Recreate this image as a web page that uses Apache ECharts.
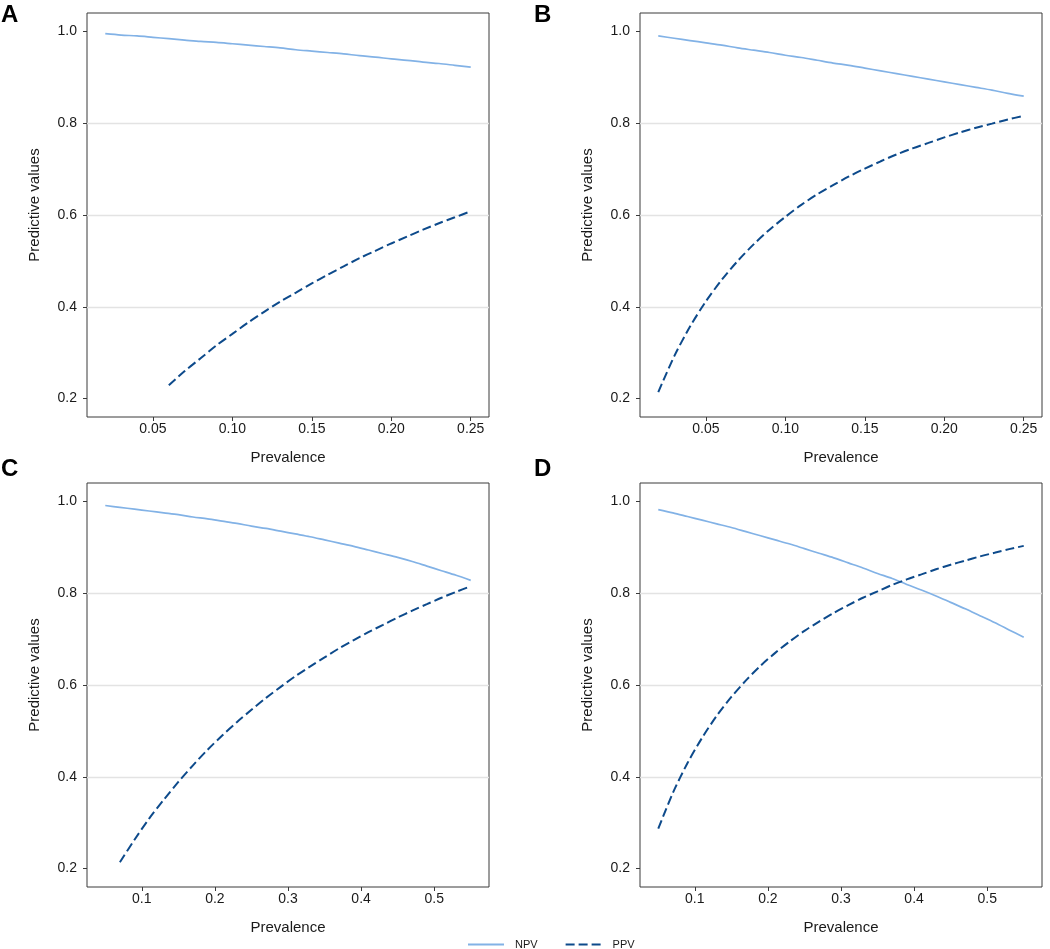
<!DOCTYPE html>
<html>
<head>
<meta charset="utf-8">
<script src="https://cdn.jsdelivr.net/npm/echarts@6/dist/echarts.min.js"></script>
<style>
html,body{margin:0;padding:0;background:#fff;}
#chart{width:1050px;height:949px;}
</style>
</head>
<body>
<div id="chart"></div>
<script>
// ---- data ----
const panelLetters = ['A', 'B', 'C', 'D'];
const xTitle = 'Prevalence';
const yTitle = 'Predictive values';
const legendNames = ['NPV', 'PPV'];

const xTicksAB = [0.05, 0.10, 0.15, 0.20, 0.25];
const xTicksCD = [0.1, 0.2, 0.3, 0.4, 0.5];
const yTicks = [0.2, 0.4, 0.6, 0.8, 1.0];

const xAB = [0.02,0.03,0.04,0.05,0.06,0.07,0.08,0.09,0.10,0.11,0.12,0.13,0.14,0.15,0.16,0.17,0.18,0.19,0.20,0.21,0.22,0.23,0.24,0.25];
const npvA = [0.995,0.992,0.990,0.987,0.984,0.981,0.978,0.976,0.973,0.970,0.967,0.964,0.960,0.957,0.954,0.951,0.947,0.944,0.940,0.937,0.933,0.930,0.926,0.922];
const ppvA = [null,null,null,null,0.229,0.260,0.288,0.316,0.341,0.366,0.389,0.411,0.431,0.451,0.470,0.488,0.506,0.522,0.538,0.553,0.568,0.582,0.595,0.608];
const npvB = [0.990,0.985,0.980,0.975,0.970,0.964,0.959,0.954,0.948,0.943,0.937,0.931,0.926,0.920,0.914,0.908,0.902,0.896,0.890,0.884,0.878,0.872,0.865,0.859];
const ppvB = [0.214,0.292,0.357,0.412,0.459,0.500,0.536,0.568,0.596,0.622,0.645,0.665,0.684,0.701,0.717,0.732,0.745,0.757,0.769,0.780,0.790,0.799,0.808,0.816];

const xCD = [0.05,0.07,0.09,0.11,0.13,0.15,0.17,0.19,0.21,0.23,0.25,0.27,0.29,0.31,0.33,0.35,0.37,0.39,0.41,0.43,0.45,0.47,0.49,0.51,0.53,0.55];
const npvC = [0.991,0.987,0.983,0.979,0.975,0.971,0.966,0.962,0.957,0.952,0.946,0.941,0.935,0.929,0.923,0.916,0.909,0.902,0.894,0.886,0.878,0.869,0.859,0.849,0.839,0.828];
const ppvC = [null,0.214,0.263,0.309,0.350,0.389,0.425,0.459,0.490,0.519,0.546,0.572,0.596,0.619,0.640,0.660,0.680,0.698,0.715,0.731,0.747,0.762,0.776,0.790,0.803,0.815];
const npvD = [0.982,0.975,0.967,0.959,0.951,0.943,0.934,0.925,0.916,0.907,0.897,0.887,0.877,0.866,0.855,0.843,0.832,0.819,0.807,0.794,0.780,0.766,0.751,0.736,0.720,0.704];
const ppvD = [0.287,0.365,0.430,0.485,0.533,0.574,0.610,0.642,0.670,0.695,0.718,0.738,0.757,0.774,0.790,0.804,0.818,0.830,0.841,0.852,0.862,0.871,0.880,0.888,0.896,0.903];

// ---- layout / style ----
const NPV_COLOR = '#82b2e6';
const PPV_COLOR = '#0d4a8b';
const FONT = 'Liberation Sans, Arial, sans-serif';

const panels = [
  {letter: panelLetters[0], left: 87,  top: 13,  x: xAB, npv: npvA, ppv: ppvA, ticks: xTicksAB, min: 0.0085, max: 0.2615, dec: 2, lx: 1,   ly: 3},
  {letter: panelLetters[1], left: 640, top: 13,  x: xAB, npv: npvB, ppv: ppvB, ticks: xTicksAB, min: 0.0085, max: 0.2615, dec: 2, lx: 534, ly: 3},
  {letter: panelLetters[2], left: 87,  top: 483, x: xCD, npv: npvC, ppv: ppvC, ticks: xTicksCD, min: 0.025, max: 0.575, dec: 1, lx: 1,   ly: 457},
  {letter: panelLetters[3], left: 640, top: 483, x: xCD, npv: npvD, ppv: ppvD, ticks: xTicksCD, min: 0.025, max: 0.575, dec: 1, lx: 534, ly: 457}
];
const GW = 402, GH = 404;

function pairs(xs, ys) {
  const out = [];
  xs.forEach((x, i) => { if (ys[i] !== null && ys[i] !== undefined) out.push([x, ys[i]]); });
  return out;
}

const grid = [], xAxis = [], yAxis = [], series = [], graphic = [];
panels.forEach((p, i) => {
  grid.push({left: p.left, top: p.top, width: GW, height: GH, show: true, borderColor: '#3a3a3a', borderWidth: 1, backgroundColor: 'transparent', containLabel: false});
  xAxis.push({
    type: 'value', gridIndex: i, min: p.min, max: p.max,
    name: xTitle, nameLocation: 'middle', nameGap: 33,
    nameTextStyle: {fontFamily: FONT, fontSize: 15, color: '#1a1a1a'},
    axisLine: {show: false},
    axisTick: {show: true, length: 4, lineStyle: {color: '#3a3a3a', width: 1}, customValues: p.ticks},
    axisLabel: {show: true, margin: 5, fontFamily: FONT, fontSize: 14, color: '#1a1a1a', customValues: p.ticks,
      formatter: v => Number(v).toFixed(p.dec)},
    splitLine: {show: false}
  });
  yAxis.push({
    type: 'value', gridIndex: i, min: 0.16, max: 1.04,
    name: yTitle, nameLocation: 'middle', nameGap: 45,
    nameTextStyle: {fontFamily: FONT, fontSize: 15, color: '#1a1a1a', padding: [0, 0, 0, 20]},
    axisLine: {show: false},
    axisTick: {show: true, length: 4, lineStyle: {color: '#3a3a3a', width: 1}, customValues: yTicks},
    axisLabel: {show: true, margin: 10, fontFamily: FONT, fontSize: 14, color: '#1a1a1a', customValues: yTicks,
      formatter: v => Number(v).toFixed(1)},
    splitLine: {show: true, showMinLine: false, showMaxLine: false, lineStyle: {color: '#e3e3e3', width: 1.3}}
  });
  series.push({
    name: legendNames[0], type: 'line', xAxisIndex: i, yAxisIndex: i,
    data: pairs(p.x, p.npv), symbol: 'none', showSymbol: false, smooth: 0.3,
    lineStyle: {color: NPV_COLOR, width: 1.7}, itemStyle: {color: NPV_COLOR}, z: 3, silent: true
  });
  series.push({
    name: legendNames[1], type: 'line', xAxisIndex: i, yAxisIndex: i,
    data: pairs(p.x, p.ppv), symbol: 'none', showSymbol: false, smooth: 0.3,
    lineStyle: {color: PPV_COLOR, width: 2, type: [9, 4]}, itemStyle: {color: PPV_COLOR}, z: 4, silent: true
  });
  graphic.push({
    type: 'text', left: p.lx, top: p.ly,
    style: {text: p.letter, font: 'bold 24px ' + FONT, fill: '#000'}
  });
});

const chart = echarts.init(document.getElementById('chart'), null, {renderer: 'canvas'});
chart.setOption({
  backgroundColor: '#ffffff',
  animation: false,
  grid, xAxis, yAxis, series, graphic,
  legend: {
    data: legendNames, left: 462, top: 934, orient: 'horizontal',
    itemWidth: 36, itemHeight: 14, itemGap: 27,
    itemStyle: {opacity: 0, borderWidth: 0},
    lineStyle: {width: 2},
    textStyle: {fontFamily: FONT, fontSize: 11, color: '#1a1a1a', padding: [0, 0, 0, 6]},
    selectedMode: false
  }
});
</script>
</body>
</html>
